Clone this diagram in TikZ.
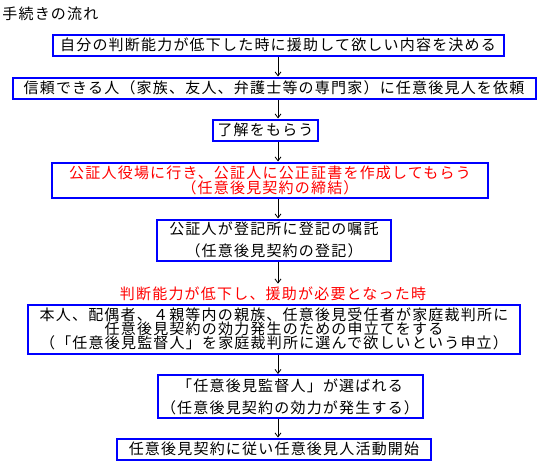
\documentclass[tikz,border=0pt]{standalone}
\usepackage{fontspec}
\setmainfont{Noto Sans CJK JP}[LetterSpace=8]
\usetikzlibrary{arrows.meta}

\begin{document}
\begin{tikzpicture}[x=1pt,y=-1pt,thick]
\tikzset{stepbox/.style={draw=blue, line width=2pt, inner sep=0pt, align=center,
font=\fontsize{15pt}{15pt}\selectfont},
flow/.style={-{Straight Barb[length=4pt,width=6pt]}, line width=0.8pt},
notetext/.style={text=red, inner sep=0pt,
font=\fontsize{15pt}{15pt}\selectfont},
}
\useasboundingbox (0,0) rectangle (553,474);
\coordinate (axis) at (278,0);
\node[anchor=west, inner sep=0pt, font=\fontsize{15pt}{15pt}\selectfont] (title) at (2,14) {手続きの流れ};
\node[stepbox, minimum width=451pt, minimum height=21pt] (decide) at (278,45) {自分の判断能力が低下した時に援助して欲しい内容を決める};
\node[stepbox, minimum width=523pt, minimum height=21pt] (request) at (274,88) {信頼できる人（家族、友人、弁護士等の専門家）に任意後見人を依頼};
\node[stepbox, minimum width=105pt, minimum height=21pt] (consent) at (265.5,130) {了解をもらう};
\node[stepbox, text=red, minimum width=436pt, minimum height=35pt] (notary) at (270,180) {公証人役場に行き、公証人に公正証書を作成してもらう\\（任意後見契約の締結）};
\node[stepbox, minimum width=234pt, minimum height=41pt] (register) at (274,240) {公証人が登記所に登記の嘱託\\[6.5pt]（任意後見契約の登記）};
\node[notetext] (when) at (273,294) {判断能力が低下し、援助が必要となった時};
\node[stepbox, minimum width=492pt, minimum height=49pt] (petition) at (274,329) {本人、配偶者、４親等内の親族、任意後見受任者が家庭裁判所に\\[-1pt]任意後見契約の効力発生のための申立てをする\\[-1pt]（「任意後見監督人」を家庭裁判所に選んで欲しいという申立）};
\node[stepbox, minimum width=265pt, minimum height=43pt] (chosen) at (290,396.5) {「任意後見監督人」が選ばれる\\[7pt]（任意後見契約の効力が発生する）};
\node[stepbox, minimum width=314pt, minimum height=21pt] (start) at (274,449) {任意後見契約に従い任意後見人活動開始};

\draw[flow] (decide.south -| axis) -- (request.north -| axis);
\draw[flow] (request.south -| axis) -- (consent.north -| axis);
\draw[flow] (consent.south -| axis) -- (notary.north -| axis);
\draw[flow] (notary.south -| axis) -- (register.north -| axis);
\draw[flow, shorten >=3pt] (register.south -| axis) -- (when.north -| axis);
\draw[flow] (petition.south -| axis) -- (chosen.north -| axis);
\draw[flow] (chosen.south -| axis) -- (start.north -| axis);

\end{tikzpicture}
\end{document}
